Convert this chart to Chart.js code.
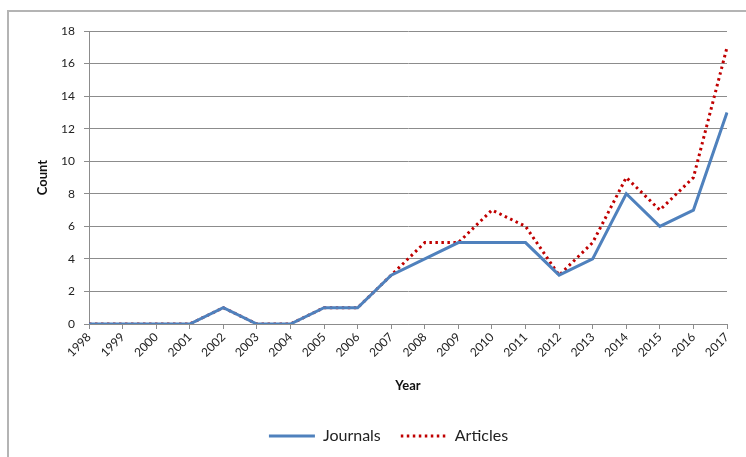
<!DOCTYPE html>
<html>
<head>
<meta charset="utf-8">
<script src="https://cdn.jsdelivr.net/npm/chart.js@4/dist/chart.umd.min.js"></script>
<style>
  html, body { margin: 0; padding: 0; background: #fff; }
  #wrap { position: relative; width: 746px; height: 457px; overflow: hidden; }
  #frame {
    position: absolute; left: 7px; top: 10px; width: 900px; height: 600px;
    border-left: 2px solid #b4b4b4; border-top: 2px solid #b4b4b4;
    pointer-events: none;
  }
  canvas { position: absolute; left: 0; top: 0; }
</style>
</head>
<body>
<div id="wrap">
  <canvas id="chart" width="746" height="457"></canvas>
  <div id="frame"></div>
</div>
<script>
  const years = ['1998', '1999', '2000', '2001', '2002', '2003', '2004', '2005', '2006', '2007',
    '2008', '2009', '2010', '2011', '2012', '2013', '2014', '2015', '2016', '2017']
  const journals = [0, 0, 0, 0, 1, 0, 0, 1, 1, 3, 4, 5, 5, 5, 3, 4, 8, 6, 7, 13]
  const articles = [0, 0, 0, 0, 1, 0, 0, 1, 1, 3, 5, 5, 7, 6, 3, 5, 9, 7, 9, 17]
  const yTicks = [0, 2, 4, 6, 8, 10, 12, 14, 16, 18]

  const FONT = 'Lato, "Open Sans", sans-serif'
  const GRID = '#8c8c8c'
  const DOTS = [2.5, 3.5]

  // legend sits a bit right of centre in the original
  const shiftLegend = {
    id: 'shiftLegend',
    afterLayout(chart) {
      const lg = chart.legend
      lg.left += 25
      lg.right += 25
      lg.adjustHitBoxes()
    },
  }

  const ctx = document.getElementById('chart').getContext('2d')
  new Chart(ctx, {
    type: 'line',
    data: {
      labels: years,
      datasets: [
        {
          label: 'Journals',
          data: journals,
          borderColor: '#4f81bd',
          backgroundColor: '#4f81bd',
          borderWidth: 3,
          pointRadius: 0,
          tension: 0,
        },
        {
          label: 'Articles',
          data: articles,
          borderColor: '#c00000',
          backgroundColor: '#c00000',
          borderWidth: 3,
          borderDash: DOTS,
          pointRadius: 0,
          tension: 0,
        },
      ],
    },
    plugins: [shiftLegend],
    options: {
      responsive: false,
      animation: false,
      layout: {padding: {left: 0, top: 31, right: 19, bottom: 3}},
      plugins: {
        tooltip: {enabled: false},
        legend: {
          position: 'bottom',
          labels: {
            usePointStyle: true,
            pointStyle: 'line',
            pointStyleWidth: 46,
            boxWidth: 46,
            padding: 20,
            color: '#222',
            font: {family: FONT, size: 16},
            // point style legend takes point options, so put the line style back
            generateLabels: chart =>
              Chart.defaults.plugins.legend.labels.generateLabels(chart).map(item => {
                const ds = chart.data.datasets[item.datasetIndex]
                return {
                  ...item,
                  lineWidth: ds.borderWidth,
                  lineDash: ds.borderDash || [],
                  strokeStyle: ds.borderColor,
                }
              }),
          },
        },
      },
      scales: {
        x: {
          offset: false,
          grid: {
            drawOnChartArea: false,
            drawTicks: true,
            tickLength: 5,
            color: GRID,
          },
          border: {color: GRID},
          ticks: {
            minRotation: 45,
            maxRotation: 45,
            autoSkip: false,
            padding: 1,
            color: '#222',
            font: {family: FONT, size: 12},
          },
          title: {
            display: true,
            text: 'Year',
            color: '#111',
            font: {family: FONT, size: 13, weight: 'bold'},
            padding: {top: 0, bottom: 14},
          },
          afterFit: scale => { scale.height = 84 },
        },
        y: {
          min: 0,
          max: 18,
          afterBuildTicks: scale => { scale.ticks = yTicks.map(v => ({value: v})) },
          grid: {
            color: GRID,
            tickLength: 5,
          },
          border: {color: GRID},
          ticks: {
            padding: 9,
            color: '#222',
            font: {family: FONT, size: 12},
          },
          title: {
            display: true,
            text: 'Count',
            color: '#111',
            font: {family: FONT, size: 13, weight: 'bold'},
            padding: {top: 35, bottom: 0},
          },
          afterFit: scale => { scale.width = 89 },
        },
      },
    },
  })
</script>
</body>
</html>
